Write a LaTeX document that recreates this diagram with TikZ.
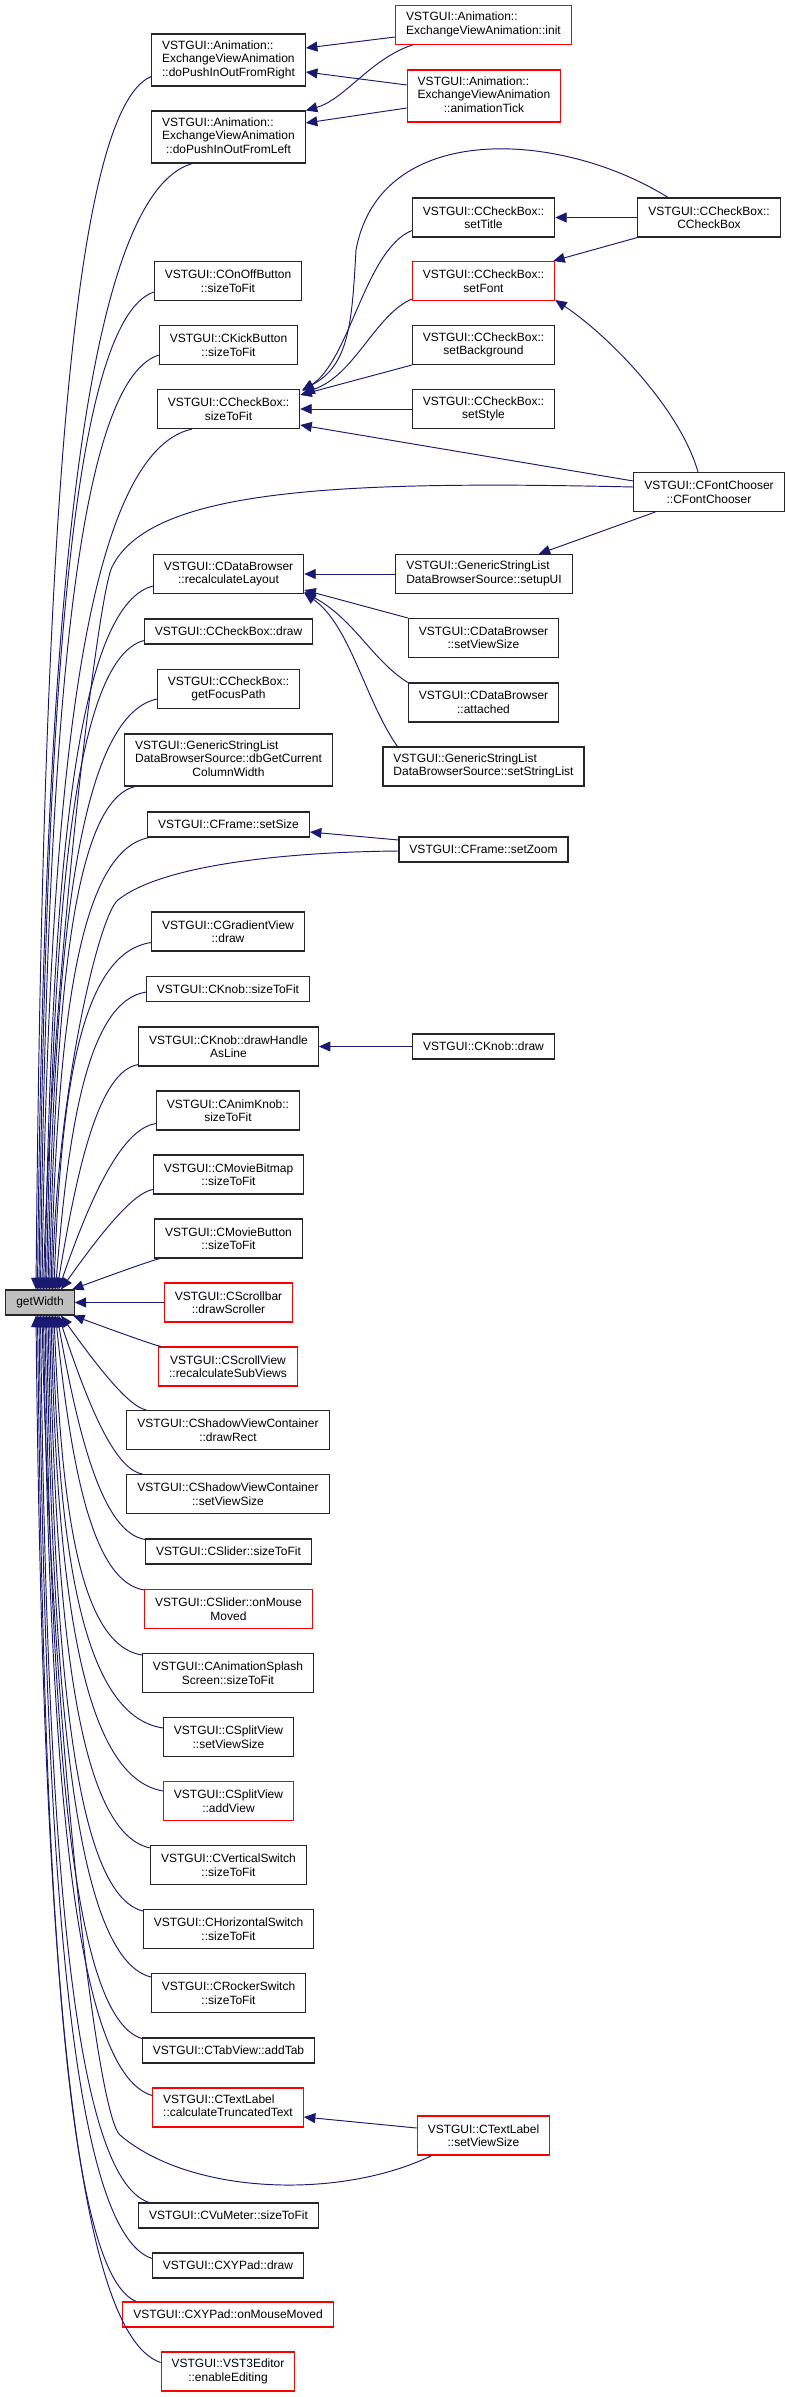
\documentclass[tikz,border=0pt]{standalone}
\usepackage{fontspec}
\newfontfamily\dxfont{Liberation Sans}
\usetikzlibrary{arrows.meta,calc}
\definecolor{callblue}{RGB}{25,25,112}
\newcommand{\lstack}[2]{\begin{tabular}{@{}l@{}}#1\\\multicolumn{1}{@{}c@{}}{#2}\end{tabular}}

\begin{document}
\begin{tikzpicture}[x=1pt,y=-1pt,
    fn/.style={draw=black!85,fill=white,line width=1.1pt,minimum height=25pt,
      inner xsep=10.5pt,inner ysep=3pt,font={\dxfont\fontsize{12}{13.5}\selectfont}},
    h2/.style={minimum height=39pt,align=center},
    h3/.style={minimum height=52pt,align=center},
    hot/.style={draw=red},
    cur/.style={fill=black!25},
    call/.style={draw=callblue,line width=0.95pt,-{Triangle[length=11.5pt,width=10pt]}}]
  \path[fill=white] (0,0) rectangle (786,2397);
  \useasboundingbox (0,0) rectangle (786,2397);

  % the function itself
  \node[fn,cur] (gw) at (40,1302.5) {getWidth};

  % direct callers
  \node[fn,h3] (R) at (228.5,60) {\lstack{VSTGUI::Animation::\\ExchangeViewAnimation}{::doPushInOutFromRight}};
  \node[fn,h3] (L) at (228.5,137) {\lstack{VSTGUI::Animation::\\ExchangeViewAnimation}{::doPushInOutFromLeft}};
  \node[fn,h2] (onoff) at (228,281) {VSTGUI::COnOffButton\\::sizeToFit};
  \node[fn,h2] (kick) at (228.5,345) {VSTGUI::CKickButton\\::sizeToFit};
  \node[fn,h2] (cbfit) at (228.5,409) {VSTGUI::CCheckBox::\\sizeToFit};
  \node[fn,h2] (recalc) at (228.5,574) {VSTGUI::CDataBrowser\\::recalculateLayout};
  \node[fn] (cbdraw) at (228.5,631.5) {VSTGUI::CCheckBox::draw};
  \node[fn,h2] (focus) at (228.5,689) {VSTGUI::CCheckBox::\\getFocusPath};
  \node[fn,h3] (dbcol) at (228.5,760) {\lstack{VSTGUI::GenericStringList\\DataBrowserSource::dbGetCurrent}{ColumnWidth}};
  \node[fn] (setsize) at (228.5,824.5) {VSTGUI::CFrame::setSize};
  \node[fn,h2] (gradient) at (228,931.5) {VSTGUI::CGradientView\\::draw};
  \node[fn] (knobfit) at (228,989) {VSTGUI::CKnob::sizeToFit};
  \node[fn,h2] (handle) at (228.5,1046.5) {VSTGUI::CKnob::drawHandle\\AsLine};
  \node[fn,h2] (animknob) at (228,1110.5) {VSTGUI::CAnimKnob::\\sizeToFit};
  \node[fn,h2] (moviebmp) at (228.5,1174.5) {VSTGUI::CMovieBitmap\\::sizeToFit};
  \node[fn,h2] (moviebtn) at (228.5,1238.5) {VSTGUI::CMovieButton\\::sizeToFit};
  \node[fn,h2,hot] (scrollbar) at (228.5,1302.5) {VSTGUI::CScrollbar\\::drawScroller};
  \node[fn,h2,hot] (scrollview) at (228,1366.5) {VSTGUI::CScrollView\\::recalculateSubViews};
  \node[fn,h2] (shadowrect) at (228,1430) {VSTGUI::CShadowViewContainer\\::drawRect};
  \node[fn,h2] (shadowsize) at (228,1494) {VSTGUI::CShadowViewContainer\\::setViewSize};
  \node[fn] (sliderfit) at (228.5,1551.5) {VSTGUI::CSlider::sizeToFit};
  \node[fn,h2,hot] (slidermove) at (228.5,1609) {VSTGUI::CSlider::onMouse\\Moved};
  \node[fn,h2] (splash) at (228,1673) {VSTGUI::CAnimationSplash\\Screen::sizeToFit};
  \node[fn,h2] (splitsize) at (228.5,1737) {VSTGUI::CSplitView\\::setViewSize};
  \node[fn,h2,hot] (splitadd) at (228.5,1801) {VSTGUI::CSplitView\\::addView};
  \node[fn,h2] (vswitch) at (228.5,1865) {VSTGUI::CVerticalSwitch\\::sizeToFit};
  \node[fn,h2] (hswitch) at (228.5,1929) {VSTGUI::CHorizontalSwitch\\::sizeToFit};
  \node[fn,h2] (rocker) at (228.5,1993) {VSTGUI::CRockerSwitch\\::sizeToFit};
  \node[fn] (tab) at (228.5,2050.5) {VSTGUI::CTabView::addTab};
  \node[fn,h2,hot] (trunc) at (228,2107.5) {\lstack{VSTGUI::CTextLabel}{::calculateTruncatedText}};
  \node[fn] (vumeter) at (228.5,2215.5) {VSTGUI::CVuMeter::sizeToFit};
  \node[fn] (xydraw) at (228,2265.5) {VSTGUI::CXYPad::draw};
  \node[fn,hot] (xymove) at (228,2314.5) {VSTGUI::CXYPad::onMouseMoved};
  \node[fn,h2,hot] (vst3) at (228,2371.5) {VSTGUI::VST3Editor\\::enableEditing};

  % second level
  \node[fn,h2,hot] (init) at (483.5,25) {\lstack{VSTGUI::Animation::}{ExchangeViewAnimation::init}};
  \node[fn,h3,hot] (tick) at (484,96) {\lstack{VSTGUI::Animation::\\ExchangeViewAnimation}{::animationTick}};
  \node[fn,h2] (settitle) at (483.5,217.5) {VSTGUI::CCheckBox::\\setTitle};
  \node[fn,h2,hot] (setfont) at (483.5,281) {VSTGUI::CCheckBox::\\setFont};
  \node[fn,h2] (setbg) at (483.5,345) {VSTGUI::CCheckBox::\\setBackground};
  \node[fn,h2] (setstyle) at (483.5,409) {VSTGUI::CCheckBox::\\setStyle};
  \node[fn,h2] (setupui) at (484,574) {\lstack{VSTGUI::GenericStringList}{DataBrowserSource::setupUI}};
  \node[fn,h2] (dbsize) at (483.5,638) {VSTGUI::CDataBrowser\\::setViewSize};
  \node[fn,h2] (attached) at (483.5,702.5) {VSTGUI::CDataBrowser\\::attached};
  \node[fn,h2] (strlist) at (483.5,766.5) {\lstack{VSTGUI::GenericStringList}{DataBrowserSource::setStringList}};
  \node[fn] (setzoom) at (483.5,849.5) {VSTGUI::CFrame::setZoom};
  \node[fn] (knobdraw) at (483.5,1046.5) {VSTGUI::CKnob::draw};
  \node[fn,h2,hot] (labelsize) at (483.5,2135.5) {VSTGUI::CTextLabel\\::setViewSize};

  % third level
  \node[fn,h2] (cbctor) at (709,217.5) {VSTGUI::CCheckBox::\\CCheckBox};
  \node[fn,h2] (fontchooser) at (709,492) {VSTGUI::CFontChooser\\::CFontChooser};

  % calls into getWidth from above
  \foreach \s/\dx/\dy/\ex in {R/0/-10/-4, L/41/0/-2.5, onoff/0/-9/-1, kick/0/-10/0.5,
      cbfit/35/0/2, recalc/0/-8/5, cbdraw/0/-4/6.5, focus/0/-10/8, dbcol/11/0/9.5,
      setsize/2/0/11, gradient/0/-9/14, knobfit/0/-10/15.5, handle/0/-2/17,
      animknob/0/-7/18.5, moviebmp/0/-5/21, moviebtn/6/0/32}
    \draw[call] let \p1=($(\s.south west)+(\dx,\dy)$), \p2=($(gw.north)+(\ex,0)$),
        \n1={min(1,abs(\y2-\y1)/350)} in
      (\p1) .. controls ({\x1+0.75*\n1*(\x2-\x1)},{\y1+0.03*(\y2-\y1)})
        and ({\x2+0.5*(1-\n1)*(\x1-\x2)+6pt},{\y1+0.45*(\y2-\y1)}) .. (\p2);

  % calls into getWidth from below
  \foreach \s/\dx/\dy/\ex in {scrollview/3/0/33, shadowrect/20/0/21, shadowsize/16/0/18.5,
      sliderfit/0/1/17, slidermove/0/1/15.5, splash/0/2/14, splitsize/0/11/12.5,
      splitadd/0/10/11, vswitch/0/3/9.5, hswitch/0/2/8, rocker/0/4/6.5, tab/0/1/5,
      trunc/0/8/3.5, vumeter/11/0/0.5, xydraw/0/6/-1, xymove/14/0/-2.5, vst3/0/11/-4}
    \draw[call] let \p1=($(\s.north west)+(\dx,\dy)$), \p2=($(gw.south)+(\ex,0)$),
        \n1={min(1,abs(\y2-\y1)/350)} in
      (\p1) .. controls ({\x1+0.75*\n1*(\x2-\x1)},{\y1+0.03*(\y2-\y1)})
        and ({\x2+0.5*(1-\n1)*(\x1-\x2)+6pt},{\y1+0.45*(\y2-\y1)}) .. (\p2);

  \draw[call] (scrollbar.west) -- (gw.east);

  % long detours into getWidth
  \draw[call] ($(fontchooser.west)+(0,-5)$) .. controls (330,480) and (150,490) .. (112,567)
    .. controls (97,597) and (50,1000) .. ($(gw.north)+(3.5,0)$);
  \draw[call] ($(setzoom.west)+(0,1.5)$) .. controls (280,852) and (160,866) .. (118,900)
    .. controls (98,916) and (56,1100) .. ($(gw.north)+(12.5,0)$);
  \draw[call] ($(labelsize.south west)+(15,0)$) .. controls (340,2200) and (190,2195) .. (120,2135)
    .. controls (95,2113) and (50,1700) .. ($(gw.south)+(2,0)$);

  % animation callers
  \draw[call] ($(init.west)+(0,12)$) -- ($(R.east)+(0,-12)$);
  \draw[call] ($(init.south west)+(17,0)$) .. controls +(-42,14) and +(39,-11) .. (L.north east);
  \draw[call] ($(tick.west)+(0,-11)$) -- ($(R.east)+(0,12)$);
  \draw[call] ($(tick.west)+(0,12)$) -- ($(L.east)+(0,-14)$);

  % check box callers
  \draw[call] (cbctor.west) -- (settitle.east);
  \draw[call] (cbctor.south west) -- ($(setfont.north east)+(-2,0)$);
  \draw[call] ($(cbctor.north)+(-41,0)$) .. controls (560,130) and (380,120) .. (356,250)
    .. controls (352,320) and (350,365) .. ($(cbfit.north east)+(2,1)$);
  \draw[call] ($(settitle.south west)+(0,-7)$) .. controls (365,250) and (350,360) .. ($(cbfit.north east)+(2,2)$);
  \draw[call] ($(setfont.south west)+(0,-2)$) .. controls (375,315) and (355,375) .. ($(cbfit.east)+(3,-16)$);
  \draw[call] (setbg.south west) -- ($(cbfit.east)+(0,-14)$);
  \draw[call] (setstyle.west) -- (cbfit.east);
  \draw[call] ($(fontchooser.west)+(0,-11)$) -- ($(cbfit.east)+(0,16)$);
  \draw[call] ($(fontchooser.north)+(-11,0)$) .. controls +(-18,-63) and +(54,36) .. ($(setfont.south east)+(0,-1)$);

  % data browser callers
  \draw[call] ($(fontchooser.south west)+(22,0)$) -- ($(setupui.north east)+(-34,0)$);
  \draw[call] (setupui.west) -- (recalc.east);
  \draw[call] (dbsize.north west) -- ($(recalc.south east)+(0,-4)$);
  \draw[call] (attached.north west) .. controls (372,660) and (355,620) .. ($(recalc.south east)+(0,-2)$);
  \draw[call] ($(strlist.north west)+(15,0)$) .. controls (365,700) and (350,625) .. ($(recalc.south east)+(0,-1)$);

  % remaining pairs
  \draw[call] ($(setzoom.west)+(0,-9.5)$) -- ($(setsize.east)+(0,7.5)$);
  \draw[call] (knobdraw.west) -- (handle.east);
  \draw[call] ($(labelsize.west)+(0,-7.5)$) -- ($(trunc.east)+(0,9.5)$);
\end{tikzpicture}
\end{document}
